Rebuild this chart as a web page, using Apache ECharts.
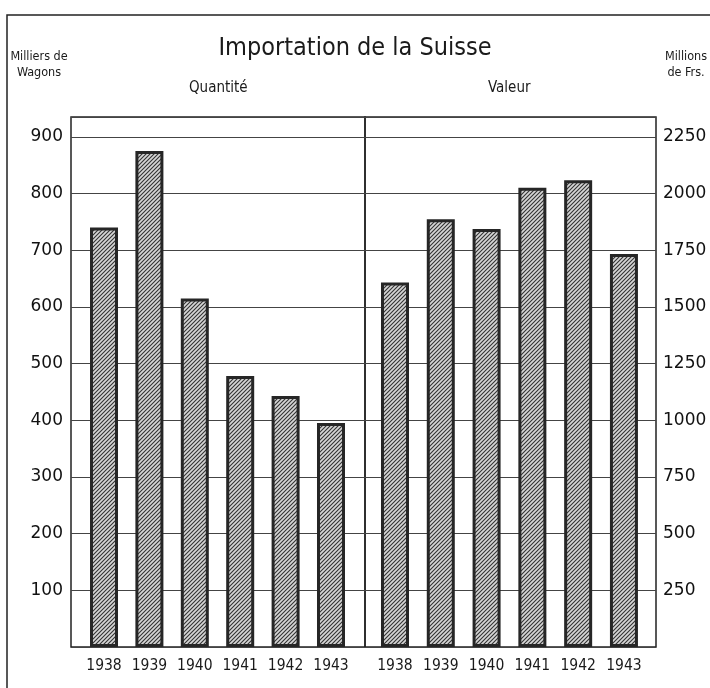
<!DOCTYPE html>
<html>
<head>
<meta charset="utf-8">
<script src="https://cdn.jsdelivr.net/npm/echarts@6/dist/echarts.min.js"></script>
<style>
  html, body { margin: 0; padding: 0; background: #fff; }
  #chart { width: 710px; height: 688px; }
</style>
</head>
<body>
<div id="chart"></div>
<script>
// ---- data ----
const years = ['1938', '1939', '1940', '1941', '1942', '1943'];
const quantite = [740, 875, 615, 478, 443, 395];        // milliers de wagons
const valeur = [1608, 1887, 1843, 2025, 2059, 1733];    // millions de Frs.
const leftTicks = [100, 200, 300, 400, 500, 600, 700, 800, 900];
const rightTicks = [250, 500, 750, 1000, 1250, 1500, 1750, 2000, 2250];

// ---- hatch pattern ----
function hatch() {
  const c = document.createElement('canvas');
  const s = 4;
  c.width = s; c.height = s;
  const g = c.getContext('2d');
  g.fillStyle = '#d6d6d6';
  g.fillRect(0, 0, s, s);
  g.strokeStyle = '#333';
  g.lineWidth = 1.1;
  g.beginPath();
  g.moveTo(0, s); g.lineTo(s, 0);
  g.moveTo(-1, 1); g.lineTo(1, -1);
  g.moveTo(s - 1, s + 1); g.lineTo(s + 1, s - 1);
  g.stroke();
  return c;
}
const pat = { image: hatch(), repeat: 'repeat' };

const chart = echarts.init(document.getElementById('chart'), null, { renderer: 'canvas' });

const condFont = 'DejaVu Sans Condensed, sans-serif';
const numFont = 'DejaVu Sans, sans-serif';

const xCommon = {
  type: 'value',
  axisLine: { show: false },
  axisTick: { show: false },
  splitLine: { show: false },
  axisLabel: {
    customValues: [0, 1, 2, 3, 4, 5],
    formatter: v => years[Math.round(v)],
    fontFamily: condFont,
    fontSize: 15.5,
    color: '#1a1a1a',
    margin: 11
  }
};

const barStyle = {
  color: pat,
  borderColor: '#262626',
  borderWidth: 3
};

chart.setOption({
  animation: false,
  backgroundColor: '#fff',
  title: {
    text: 'Importation de la Suisse',
    left: 'center',
    top: 31,
    textStyle: { fontFamily: condFont, fontWeight: 'normal', fontSize: 25, color: '#1a1a1a' }
  },
  graphic: [
    { type: 'rect', shape: { x: 7, y: 15, width: 760, height: 720 }, style: { fill: 'none', stroke: '#222', lineWidth: 1.5 }, silent: true },
    { type: 'text', x: 39, y: 49, style: { text: 'Milliers de\nWagons', fontFamily: condFont, fontSize: 12.5, lineHeight: 16, fill: '#1a1a1a', align: 'center' } },
    { type: 'text', x: 686, y: 49, style: { text: 'Millions\nde Frs.', fontFamily: condFont, fontSize: 12.5, lineHeight: 16, fill: '#1a1a1a', align: 'center' } },
    { type: 'text', left: 189, top: 81, style: { text: 'Quantité', fontFamily: condFont, fontSize: 15, fill: '#1a1a1a' } },
    { type: 'text', left: 488, top: 81, style: { text: 'Valeur', fontFamily: condFont, fontSize: 15, fill: '#1a1a1a' } }
  ],
  grid: [
    { left: 71, top: 117, width: 294, height: 530, show: true, borderColor: '#222', borderWidth: 1.5, backgroundColor: 'transparent' },
    { left: 365, top: 117, width: 291, height: 530, show: true, borderColor: '#222', borderWidth: 1.5, backgroundColor: 'transparent' }
  ],
  xAxis: [
    Object.assign({}, xCommon, { gridIndex: 0, min: -0.727, max: 5.749 }),
    Object.assign({}, xCommon, { gridIndex: 1, min: -0.655, max: 5.70, axisLabel: Object.assign({}, xCommon.axisLabel) })
  ],
  yAxis: [
    {
      type: 'value', gridIndex: 0, position: 'left', min: 0, max: 935, interval: 100,
      axisLine: { show: false }, axisTick: { show: false },
      splitLine: { show: true, lineStyle: { color: '#444', width: 1 } },
      axisLabel: {
        formatter: v => leftTicks.indexOf(v) >= 0 ? String(v) : '',
        fontFamily: numFont, fontSize: 17, color: '#111', margin: 8
      }
    },
    {
      type: 'value', gridIndex: 1, position: 'right', min: 0, max: 2337.5, interval: 250,
      axisLine: { show: false }, axisTick: { show: false },
      splitLine: { show: true, lineStyle: { color: '#444', width: 1 } },
      axisLabel: {
        formatter: v => rightTicks.indexOf(v) >= 0 ? String(v) : '',
        fontFamily: numFont, fontSize: 17, color: '#111', margin: 7
      }
    }
  ],
  series: [
    {
      type: 'bar', xAxisIndex: 0, yAxisIndex: 0, barWidth: 28,
      data: quantite.map((v, i) => [i, v]),
      itemStyle: barStyle
    },
    {
      type: 'bar', xAxisIndex: 1, yAxisIndex: 1, barWidth: 28,
      data: valeur.map((v, i) => [i, v]),
      itemStyle: barStyle
    }
  ]
});
</script>
</body>
</html>
